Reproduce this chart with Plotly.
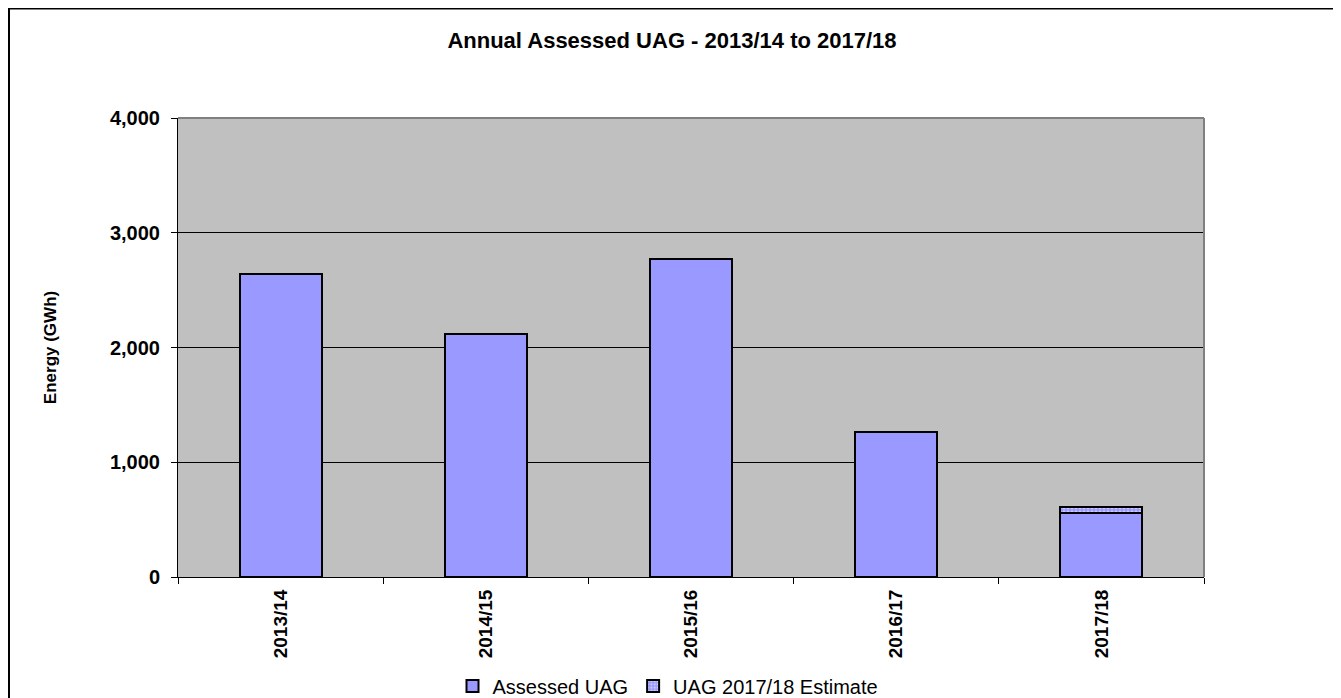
import plotly.graph_objects as go

categories = ["2013/14", "2014/15", "2015/16", "2016/17", "2017/18"]
assessed_uag = [2640, 2118, 2771, 1264, 555]
uag_estimate = [0, 0, 0, 0, 52]
y_ticks = [0, 1000, 2000, 3000, 4000]
y_tick_labels = ["0", "1,000", "2,000", "3,000", "4,000"]

FONT = "Arial, Liberation Sans, sans-serif"
OFF = 8  # browser body margin
W, H = 1341 - OFF, 698 - OFF
L, R, T, B = 178 - OFF, 1204 - OFF, 118 - OFF, 577 - OFF

def px_x(px):
    return (px - OFF - L) / (R - L)

def px_y(py):
    return (B - (py - OFF)) / (B - T)

fig = go.Figure()
fig.add_trace(go.Bar(
    x=categories, y=assessed_uag, name="Assessed UAG",
    marker=dict(color="#9999FF", line=dict(color="black", width=2)),
))
fig.add_trace(go.Bar(
    x=categories, y=uag_estimate, name="UAG 2017/18 Estimate",
    marker=dict(color="#9999FF", line=dict(color="black", width=2),
                pattern=dict(shape=".", fgcolor="white", bgcolor="#9999FF", size=4, solidity=0.4)),
))

fig.update_layout(
    width=W, height=H,
    barmode="stack", bargap=0.6,
    paper_bgcolor="white", plot_bgcolor="#C0C0C0",
    margin=dict(l=L, r=W - R, t=T, b=H - B, autoexpand=False),
    font=dict(family=FONT, color="black", size=20),
    title=dict(text="<b>Annual Assessed UAG - 2013/14 to 2017/18</b>",
               x=px_x(672), xref="paper", xanchor="center",
               y=1 - (40 - OFF) / H, yanchor="middle", font=dict(size=22)),
    showlegend=True,
    legend=dict(orientation="h", x=px_x(668), xanchor="center",
                y=px_y(686), yanchor="middle", font=dict(size=20),
                bgcolor="rgba(0,0,0,0)", itemwidth=30, traceorder="normal",
                tracegroupgap=0),
    xaxis=dict(showline=True, linecolor="black", linewidth=1,
               ticks="outside", tickson="boundaries", ticklen=6, tickcolor="black",
               tickangle=-90, tickfont=dict(size=19, family=FONT, weight="bold"),
               ticklabelstandoff=4, showgrid=False),
    yaxis=dict(range=[0, 4000], tickvals=y_ticks, ticktext=y_tick_labels,
               showline=True, linecolor="black", linewidth=1,
               ticks="outside", ticklen=6, tickcolor="black",
               tickfont=dict(size=20, family=FONT, weight="bold"),
               ticklabelstandoff=7,
               showgrid=True, gridcolor="black", gridwidth=1,
               zeroline=False,
               title=dict(text="<b>Energy (GWh)</b>", font=dict(size=17), standoff=48)),
)

# plot-area gray top/right border
fig.add_shape(type="line", xref="paper", yref="paper", x0=0, x1=1, y0=1, y1=1,
              line=dict(color="#808080", width=2))
fig.add_shape(type="line", xref="paper", yref="paper", x0=1, x1=1, y0=0, y1=1,
              line=dict(color="#808080", width=2))
# outer chart frame
fig.add_shape(type="rect", xref="paper", yref="paper",
              x0=px_x(9), x1=px_x(1336), y0=px_y(710), y1=px_y(8.5),
              line=dict(color="black", width=2), fillcolor="rgba(0,0,0,0)", layer="below")

fig.write_html("out.html")
